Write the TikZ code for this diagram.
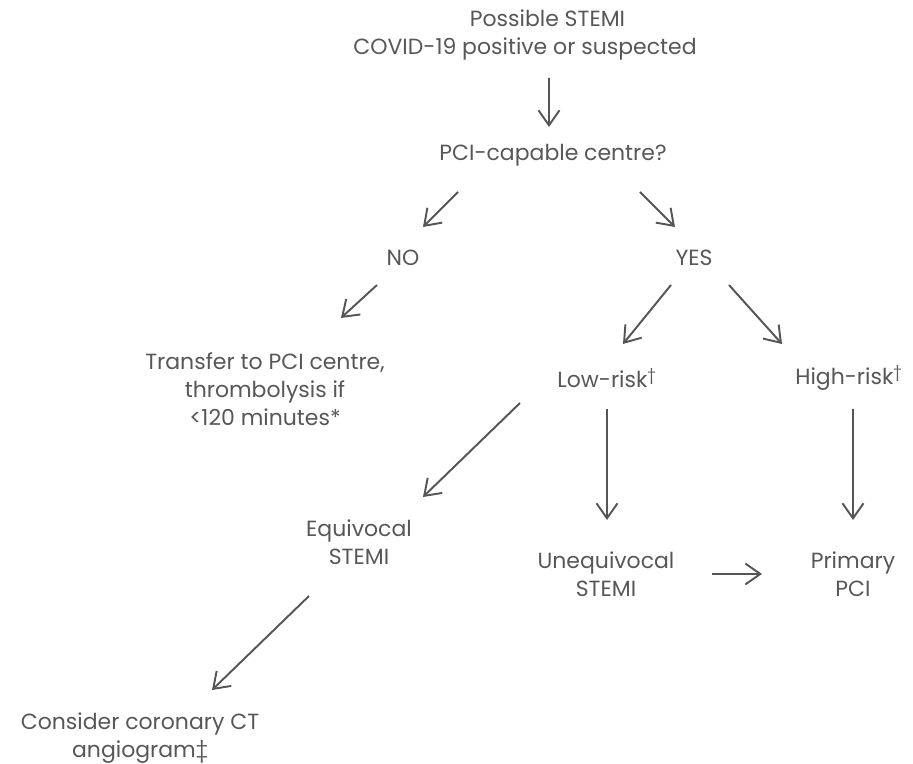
\documentclass[tikz,border=0pt]{standalone}
\usepackage{fontspec}
\setmainfont{Poppins}
\usepackage{tikz}
\usetikzlibrary{arrows.meta}
\usepackage{xcolor}

\definecolor{txtgray}{HTML}{575757}
\definecolor{arrgray}{HTML}{555555}

\begin{document}
\begin{tikzpicture}[
            label/.style={inner sep=0pt, align=center, text=txtgray, font=\fontsize{12.5}{15.8}\selectfont},
            arrow/.style={-{Straight Barb[length=0.3cm, width=0.42cm, line width=1.1pt]}, line width=1.1pt, draw=arrgray}
        ]
            \useasboundingbox (0,0) rectangle (18.26,-15.28);

            \node[label] (top) at (10.50,-0.70) {\hspace*{0.9cm}Possible STEMI\\COVID-19 positive or suspected};
            \node[label] (pci) at (11.06,-3.10) {PCI-capable centre?};
            \node[label] (no) at (8.06,-5.16) {NO};
            \node[label] (yes) at (13.88,-5.16) {YES};
            \node[label] (transfer) at (5.30,-7.78) {Transfer to PCI centre,\\thrombolysis if\\<120 minutes*};
            \node[label] (low) at (12.14,-7.56) {Low-risk\textsuperscript{†}};
            \node[label] (high) at (16.98,-7.56) {High-risk\textsuperscript{†}};
            \node[label] (equiv) at (7.18,-10.84) {Equivocal\\STEMI};
            \node[label] (unequiv) at (12.12,-11.48) {Unequivocal\\STEMI};
            \node[label] (primary) at (17.06,-11.48) {Primary\\PCI};
            \node[label] (consider) at (2.80,-14.76) {Consider coronary CT\\angiogram‡};

            \draw[arrow] ([shift={(0.48,-0.86)}]top.center) -- ([shift={(-0.08,0.56)}]pci.center);
            \draw[arrow] ([shift={(-1.90,-0.74)}]pci.center) -- ([shift={(0.40,0.62)}]no.center);
            \draw[arrow] ([shift={(1.74,-0.74)}]pci.center) -- ([shift={(-0.38,0.62)}]yes.center);
            \draw[arrow] ([shift={(-0.52,-0.54)}]no.center) -- ([shift={(1.52,1.42)}]transfer.center);
            \draw[arrow] ([shift={(-0.46,-0.54)}]yes.center) -- ([shift={(0.32,0.68)}]low.center);
            \draw[arrow] ([shift={(0.70,-0.54)}]yes.center) -- ([shift={(-1.34,0.68)}]high.center);
            \draw[arrow] ([shift={(-1.74,-0.50)}]low.center) -- ([shift={(1.28,0.90)}]equiv.center);
            \draw[arrow] ([shift={(0,-0.62)}]low.center) -- ([shift={(0.02,1.08)}]unequiv.center);
            \draw[arrow] ([shift={(0.08,-0.62)}]high.center) -- ([shift={(0,1.08)}]primary.center);
            \draw[arrow] ([shift={(2.12,0)}]unequiv.center) -- ([shift={(-1.82,0)}]primary.center);
            \draw[arrow] ([shift={(-1.00,-1.08)}]equiv.center) -- ([shift={(1.44,0.96)}]consider.center);
        \end{tikzpicture}
\end{document}
